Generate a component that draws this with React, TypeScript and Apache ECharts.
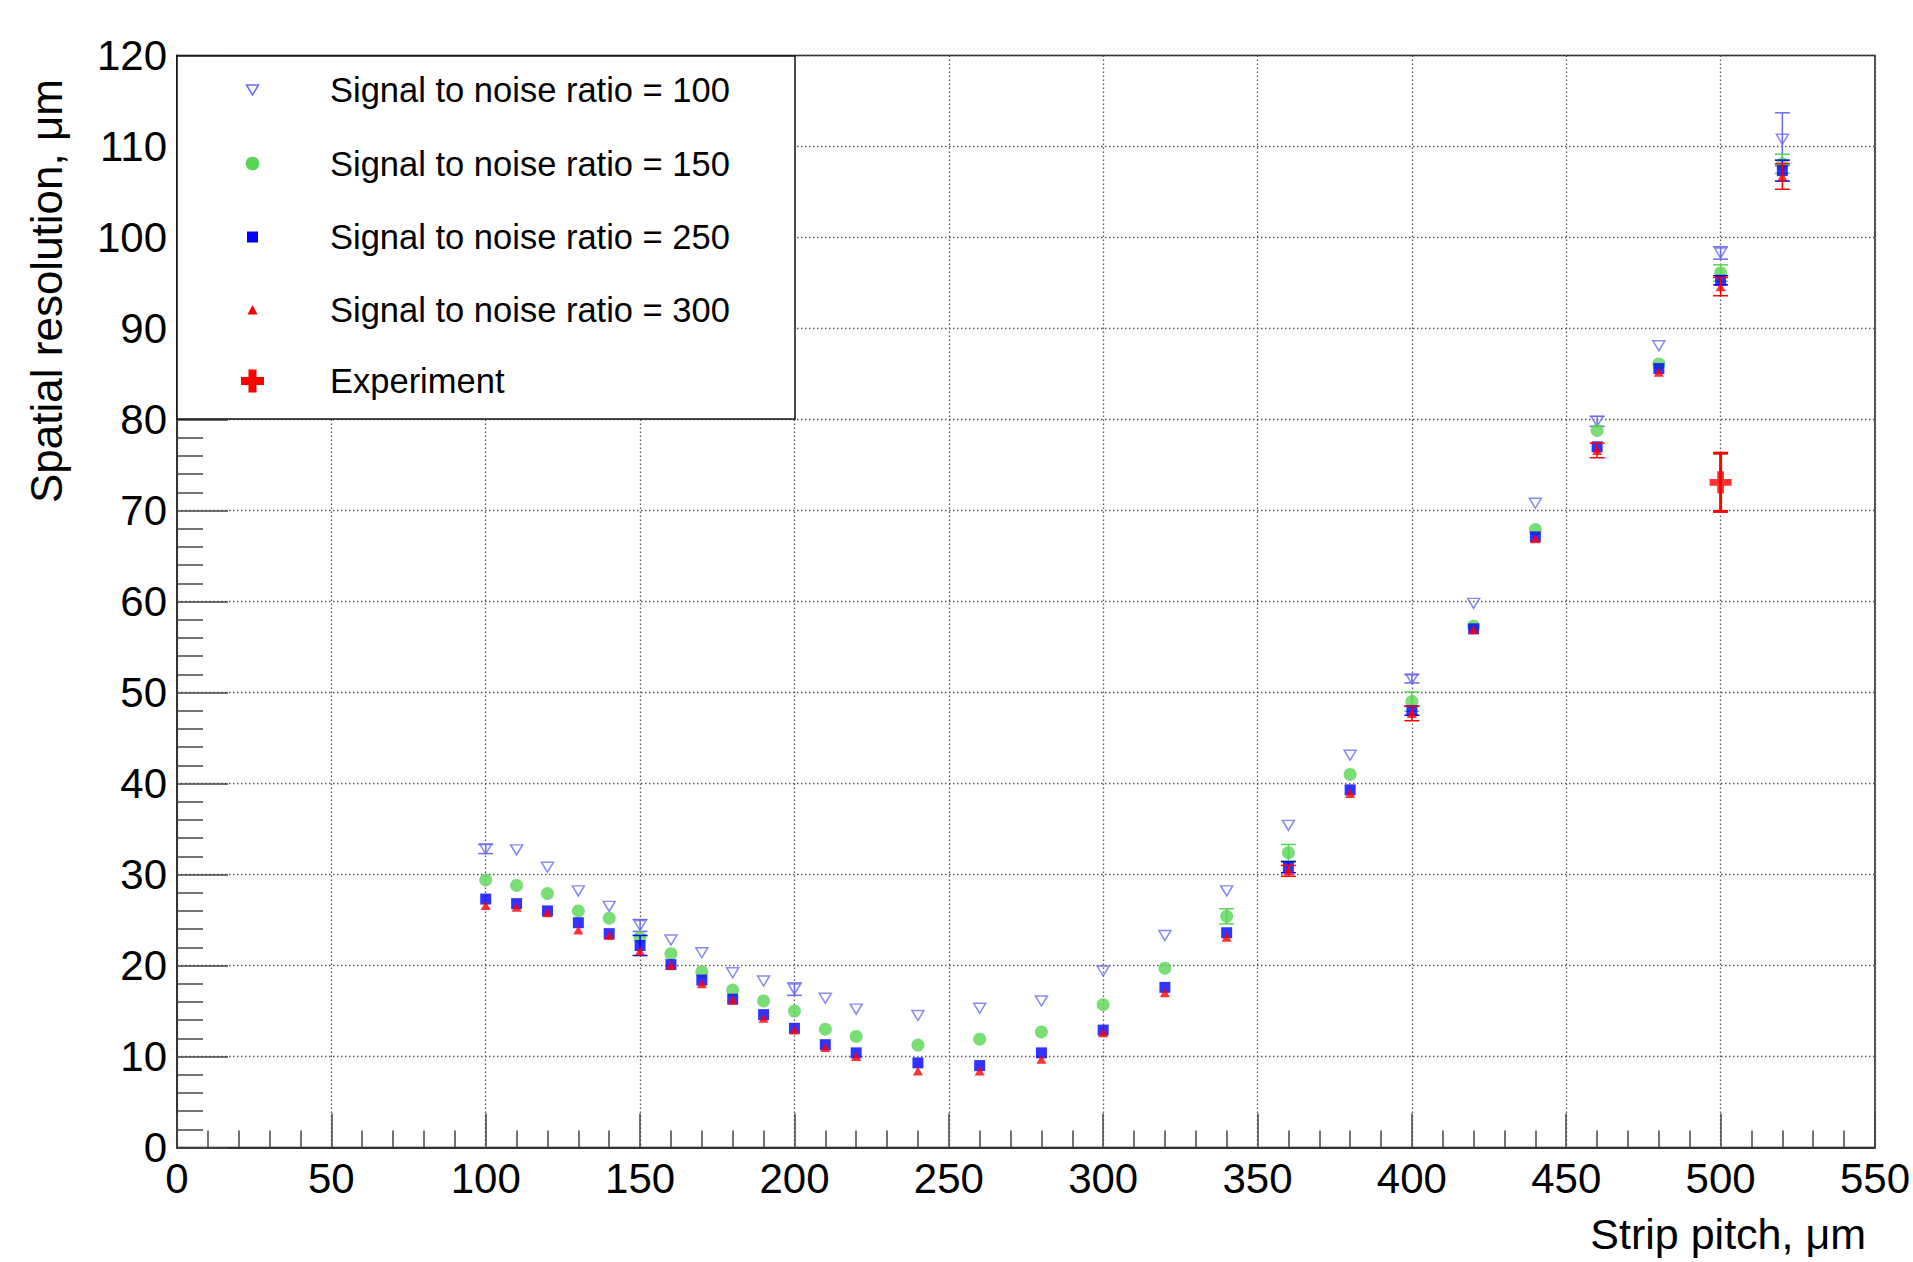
import React, { useEffect, useRef } from "react";
import * as echarts from "echarts";

// ---- data ----
const pitch = [100, 110, 120, 130, 140, 150, 160, 170, 180, 190, 200, 210, 220, 240, 260, 280, 300, 320, 340, 360, 380, 400, 420, 440, 460, 480, 500, 520];

const snr100 = [32.8, 32.7, 30.8, 28.2, 26.5, 24.4, 22.8, 21.4, 19.2, 18.3, 17.4, 16.4, 15.2, 14.5, 15.3, 16.1, 19.4, 23.3, 28.2, 35.4, 43.1, 51.5, 59.8, 70.8, 79.8, 88.1, 98.3, 110.8];
const snr100Err = [0.5, 0.3, 0.3, 0.3, 0.3, 0.65, 0.3, 0.3, 0.3, 0.3, 0.68, 0.3, 0.3, 0.3, 0.3, 0.3, 0.4, 0.3, 0.3, 0.3, 0.3, 0.45, 0.3, 0.3, 0.55, 0.4, 0.68, 2.9];

const snr150 = [29.4, 28.8, 27.9, 26.0, 25.2, 23.1, 21.3, 19.3, 17.3, 16.1, 15.0, 13.0, 12.2, 11.25, 11.9, 12.7, 15.7, 19.7, 25.4, 32.4, 41.0, 49.0, 57.3, 67.9, 78.8, 86.1, 96.1, 108.1];
const snr150Err = [0.4, 0.3, 0.3, 0.3, 0.3, 0.4, 0.3, 0.3, 0.3, 0.3, 0.3, 0.3, 0.3, 0.3, 0.3, 0.3, 0.4, 0.4, 0.83, 0.9, 0.4, 1.05, 0.4, 0.4, 0.4, 0.4, 0.9, 1.05];

const snr250 = [27.3, 26.8, 26.0, 24.7, 23.5, 22.2, 20.1, 18.4, 16.3, 14.6, 13.1, 11.3, 10.4, 9.3, 9.0, 10.4, 12.9, 17.6, 23.6, 30.8, 39.3, 48.0, 57.0, 67.1, 77.0, 85.6, 95.3, 107.35];
const snr250Err = [0.4, 0.3, 0.3, 0.3, 0.3, 1.1, 0.3, 0.3, 0.3, 0.3, 0.3, 0.3, 0.3, 0.3, 0.3, 0.3, 0.3, 0.3, 0.3, 0.6, 0.3, 0.5, 0.3, 0.3, 0.4, 0.4, 0.5, 1.15];

const snr300 = [26.6, 26.4, 25.8, 23.9, 23.3, 21.6, 20.0, 18.0, 16.2, 14.2, 12.9, 11.0, 10.0, 8.4, 8.4, 9.7, 12.6, 17.0, 23.1, 30.4, 38.9, 47.7, 56.9, 66.9, 76.6, 85.2, 94.6, 106.7];
const snr300Err = [0.4, 0.3, 0.3, 0.3, 0.3, 0.4, 0.3, 0.3, 0.3, 0.3, 0.3, 0.3, 0.3, 0.3, 0.3, 0.3, 0.4, 0.4, 0.4, 0.6, 0.4, 0.8, 0.4, 0.4, 0.8, 0.4, 1.0, 1.4];

const expPitch = [500];
const expRes = [73.1];
const expErr = [3.2];

const legendNames = [
  "Signal to noise ratio = 100",
  "Signal to noise ratio = 150",
  "Signal to noise ratio = 250",
  "Signal to noise ratio = 300",
  "Experiment",
];

const xTitle = "Strip pitch, μm";
const yTitle = "Spatial resolution, μm";

// ---- styles ----
const FONT = "'Liberation Sans', Arial, Helvetica, sans-serif";
const C100 = "#6b6bef";
const C150 = "#59d454";
const C250 = "#0000ff";
const C300 = "#ff0000";
const CEXP = "#ff0000";
const CROSS = "path://M8,0H15V8H23V15H15V23H8V15H0V8H8Z";

function errorSeries(name: string, xs: number[], ys: number[], es: number[], color: string, width: number, capHalf: number, z: number) {
  return {
    type: "custom",
    name,
    silent: true,
    z,
    data: xs.map((x, i) => [x, ys[i], es[i]]),
    encode: { x: 0, y: 1 },
    renderItem: (_params: any, api: any) => {
      const x = api.value(0);
      const y = api.value(1);
      const e = api.value(2);
      const top = api.coord([x, y + e]);
      const bot = api.coord([x, y - e]);
      const half = (bot[1] - top[1]) / 2;
      if (half < 4) return { type: "group", children: [] };
      const st = { stroke: color, lineWidth: width };
      return {
        type: "group",
        children: [
          { type: "line", shape: { x1: top[0], y1: top[1], x2: bot[0], y2: bot[1] }, style: st },
          { type: "line", shape: { x1: top[0] - capHalf, y1: top[1], x2: top[0] + capHalf, y2: top[1] }, style: st },
          { type: "line", shape: { x1: bot[0] - capHalf, y1: bot[1], x2: bot[0] + capHalf, y2: bot[1] }, style: st },
        ],
      };
    },
  };
}

function pts(xs: number[], ys: number[]) {
  return xs.map((x, i) => [x, ys[i]]);
}

export default function App() {
  const ref = useRef<HTMLDivElement>(null);

  useEffect(() => {
    if (!ref.current) return;
    const chart = echarts.init(ref.current, null, { renderer: "svg" });

    const legX = 252.5;
    const textX = 330;
    const rows = [90, 163.5, 237, 310, 381];

    const option: any = {
      animation: false,
      backgroundColor: "#ffffff",
      grid: {
        left: 177,
        right: 36,
        top: 55.5,
        bottom: 114.5,
        show: true,
        borderColor: "#222",
        borderWidth: 1.5,
        backgroundColor: "transparent",
      },
      xAxis: {
        type: "value",
        min: 0,
        max: 550,
        interval: 50,
        axisLine: { show: true, lineStyle: { color: "#333", width: 2 } },
        axisTick: { show: true, inside: true, length: 34, lineStyle: { color: "#444", width: 1.5 } },
        minorTick: { show: true, splitNumber: 5, length: 17, lineStyle: { color: "#444", width: 1.5 } },
        axisLabel: { fontSize: 42, color: "#000", fontFamily: FONT, margin: 10 },
        splitLine: { show: true, lineStyle: { color: "#555", width: 1.3, type: [1.5, 2.5] } },
        minorSplitLine: { show: false },
      },
      yAxis: {
        type: "value",
        min: 0,
        max: 120,
        interval: 10,
        axisLine: { show: true, lineStyle: { color: "#333", width: 2 } },
        axisTick: { show: true, inside: true, length: 51, lineStyle: { color: "#444", width: 1.5 } },
        minorTick: { show: true, splitNumber: 5, length: 26, lineStyle: { color: "#444", width: 1.5 } },
        axisLabel: { fontSize: 42, color: "#000", fontFamily: FONT, margin: 10 },
        splitLine: { show: true, lineStyle: { color: "#555", width: 1.3, type: [1.5, 2.5] } },
      },
      series: [
        errorSeries("err100", pitch, snr100, snr100Err, C100, 1.5, 7.5, 2),
        {
          type: "scatter",
          name: legendNames[0],
          data: pts(pitch, snr100),
          symbol: "triangle",
          symbolRotate: 180,
          symbolSize: [12, 10],
          itemStyle: { color: "rgba(255,255,255,0)", borderColor: C100, borderWidth: 1.5 },
          z: 3,
        },
        errorSeries("err150", pitch, snr150, snr150Err, C150, 1.5, 7.5, 4),
        {
          type: "scatter",
          name: legendNames[1],
          data: pts(pitch, snr150),
          symbol: "circle",
          symbolSize: 13,
          itemStyle: { color: C150 },
          z: 5,
        },
        errorSeries("err250", pitch, snr250, snr250Err, C250, 1.5, 7.5, 6),
        {
          type: "scatter",
          name: legendNames[2],
          data: pts(pitch, snr250),
          symbol: "rect",
          symbolSize: 11,
          itemStyle: { color: C250 },
          z: 7,
        },
        errorSeries("err300", pitch, snr300, snr300Err, C300, 1.5, 7.5, 8),
        {
          type: "scatter",
          name: legendNames[3],
          data: pts(pitch, snr300),
          symbol: "triangle",
          symbolSize: [10, 9],
          itemStyle: { color: C300 },
          z: 9,
        },
        errorSeries("errExp", expPitch, expRes, expErr, CEXP, 3, 7.5, 10),
        {
          type: "scatter",
          name: legendNames[4],
          data: pts(expPitch, expRes),
          symbol: CROSS,
          symbolSize: 22,
          itemStyle: { color: CEXP },
          z: 11,
        },
      ],
      graphic: [
        {
          type: "rect",
          z: 100,
          shape: { x: 177, y: 56, width: 618, height: 363 },
          style: { fill: "#ffffff", stroke: "#111", lineWidth: 1.5 },
        },
        {
          type: "polygon",
          z: 101,
          shape: { points: [[legX - 6, rows[0] - 5], [legX + 6, rows[0] - 5], [legX, rows[0] + 5]] },
          style: { fill: "none", stroke: C100, lineWidth: 1.5 },
        },
        {
          type: "circle",
          z: 101,
          shape: { cx: legX, cy: rows[1], r: 6.8 },
          style: { fill: C150 },
        },
        {
          type: "rect",
          z: 101,
          shape: { x: legX - 5.5, y: rows[2] - 5.5, width: 11, height: 11 },
          style: { fill: C250 },
        },
        {
          type: "polygon",
          z: 101,
          shape: { points: [[legX, rows[3] - 5], [legX + 5, rows[3] + 4.5], [legX - 5, rows[3] + 4.5]] },
          style: { fill: C300 },
        },
        {
          type: "polygon",
          z: 101,
          shape: {
            points: [
              [legX - 4, rows[4] - 11.5], [legX + 4, rows[4] - 11.5], [legX + 4, rows[4] - 4],
              [legX + 11.5, rows[4] - 4], [legX + 11.5, rows[4] + 4], [legX + 4, rows[4] + 4],
              [legX + 4, rows[4] + 11.5], [legX - 4, rows[4] + 11.5], [legX - 4, rows[4] + 4],
              [legX - 11.5, rows[4] + 4], [legX - 11.5, rows[4] - 4], [legX - 4, rows[4] - 4],
            ],
          },
          style: { fill: CEXP },
        },
        ...legendNames.map((name, i) => ({
          type: "text",
          z: 101,
          x: textX,
          y: rows[i],
          style: {
            text: name,
            fill: "#000",
            font: `34.5px ${FONT}`,
            textAlign: "left",
            textVerticalAlign: "middle",
          },
        })),
        {
          type: "text",
          z: 101,
          x: 1866,
          y: 1234,
          style: {
            text: xTitle,
            fill: "#000",
            font: `43px ${FONT}`,
            textAlign: "right",
            textVerticalAlign: "middle",
          },
        },
        {
          type: "text",
          z: 101,
          x: 46,
          y: 79,
          rotation: Math.PI / 2,
          style: {
            text: yTitle,
            fill: "#000",
            font: `44px ${FONT}`,
            textAlign: "right",
            textVerticalAlign: "middle",
          },
        },
      ],
    };

    chart.setOption(option);
    return () => {
      chart.dispose();
    };
  }, []);

  return (
    <div
      ref={ref}
      style={{ position: "fixed", left: 0, top: 0, width: 1913, height: 1262, background: "#fff" }}
    />
  );
}
